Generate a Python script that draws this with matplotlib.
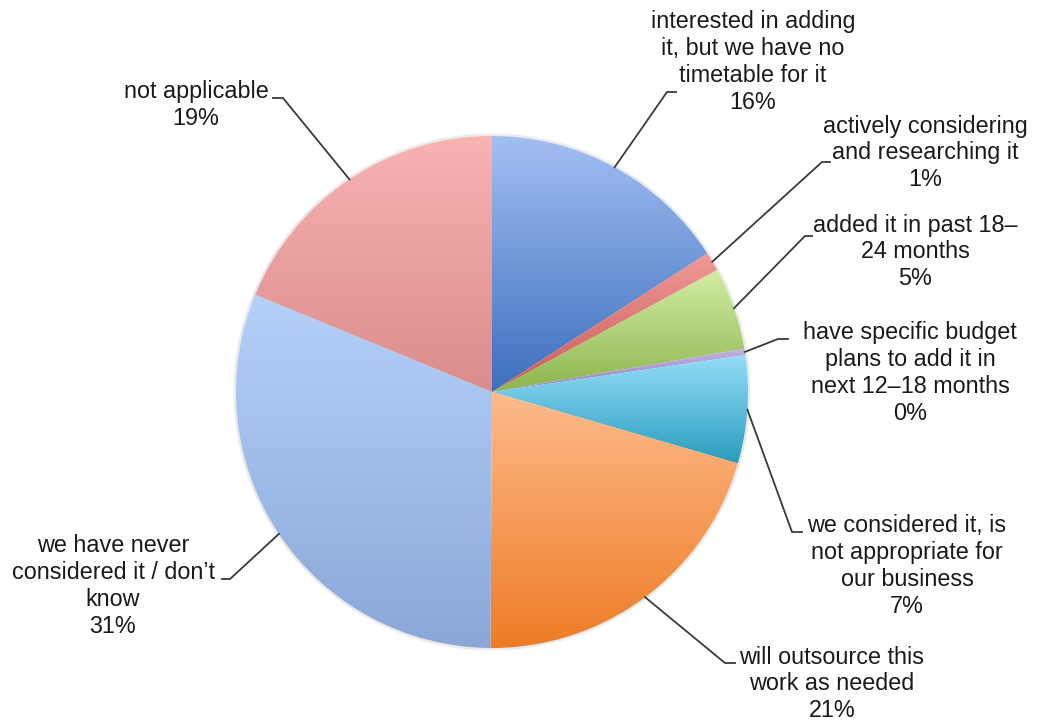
import numpy as np
import matplotlib
matplotlib.use('Agg')
import matplotlib.pyplot as plt
from matplotlib.colors import to_rgb
from matplotlib.patches import Circle

plt.rcParams['font.family'] = ['Liberation Sans', 'DejaVu Sans']

labels = [
    'interested in adding\nit, but we have no\ntimetable for it',
    'actively considering\nand researching it',
    'added it in past 18\u2013\n24 months',
    'have specific budget\nplans to add it in\nnext 12\u201318 months',
    'we considered it, is\nnot appropriate for\nour business',
    'will outsource this\nwork as needed',
    'we have never\nconsidered it / don\u2019t\nknow',
    'not applicable',
]
values = [15.9, 1.2, 5.2, 0.4, 6.8, 20.6, 31.1, 18.8]

# light (top) and dark (bottom) shade for each slice
tops = ['#a3bff2', '#ef9a98', '#d3eda5', '#c2b3e0', '#95defa', '#fdbb8c', '#b5d1fa', '#f8b3b2']
bottoms = ['#3c6fbd', '#cc5a56', '#8db54e', '#9580c0', '#2a9dbd', '#ee7c26', '#8aa7d8', '#da8c8b']

W, H = 1037, 724
CX, CY, R = 492, H - 392, 256

# label centre, leader elbow and leader end (pixels, y from top)
text_pos = [(753, 62), (925, 153), (915, 252), (910, 373),
            (907, 566), (832, 684), (113, 586), (196, 105)]
elbows = [(667, 92), (822, 162), (805, 236), (778, 339),
          (792, 532), (725, 663), (230, 579), (283, 98)]
ends = [(676, 92), (830, 162), (812, 236), (788, 339),
        (802, 532), (735, 663), (222, 579), (273, 98)]

fig = plt.figure(figsize=(W / 100, H / 100), dpi=100)
ax = fig.add_axes([0, 0, 1, 1])

# soft rim behind the pie
ax.add_patch(Circle((CX, CY), R + 1, facecolor='none', edgecolor='#dddddd',
                    linewidth=2, alpha=0.6, zorder=0))

wedges, _ = ax.pie(values, startangle=90, counterclock=False,
                   center=(CX, CY), radius=R,
                   wedgeprops=dict(linewidth=0, facecolor='none'))

for w, top, bot in zip(wedges, tops, bottoms):
    path = w.get_path().transformed(w.get_patch_transform())
    bb = path.get_extents()
    t = np.linspace(0, 1, 256)[:, None]
    grad = (1 - t) * np.array(to_rgb(bot)) + t * np.array(to_rgb(top))
    img = ax.imshow(grad[:, None, :], extent=[bb.x0, bb.x1, bb.y0, bb.y1],
                    origin='lower', aspect='auto', interpolation='bilinear', zorder=1)
    img.set_clip_path(w)

for w, lab, v, tp, el, en in zip(wedges, labels, values, text_pos, elbows, ends):
    mid = np.deg2rad((w.theta1 + w.theta2) / 2)
    ex, ey = CX + R * np.cos(mid), CY + R * np.sin(mid)
    ax.plot([ex, el[0], en[0]], [ey, H - el[1], H - en[1]],
            color='#3a3a3a', linewidth=1.3, zorder=2)
    ax.text(tp[0], H - tp[1], f'{lab}\n{round(v)}%', ha='center', va='center',
            fontsize=16.8, color='#1a1a1a', linespacing=1.22, zorder=3)

ax.set_xlim(0, W)
ax.set_ylim(0, H)
ax.set_aspect('auto')
ax.axis('off')

plt.savefig('out.png', dpi=100)
plt.close()
